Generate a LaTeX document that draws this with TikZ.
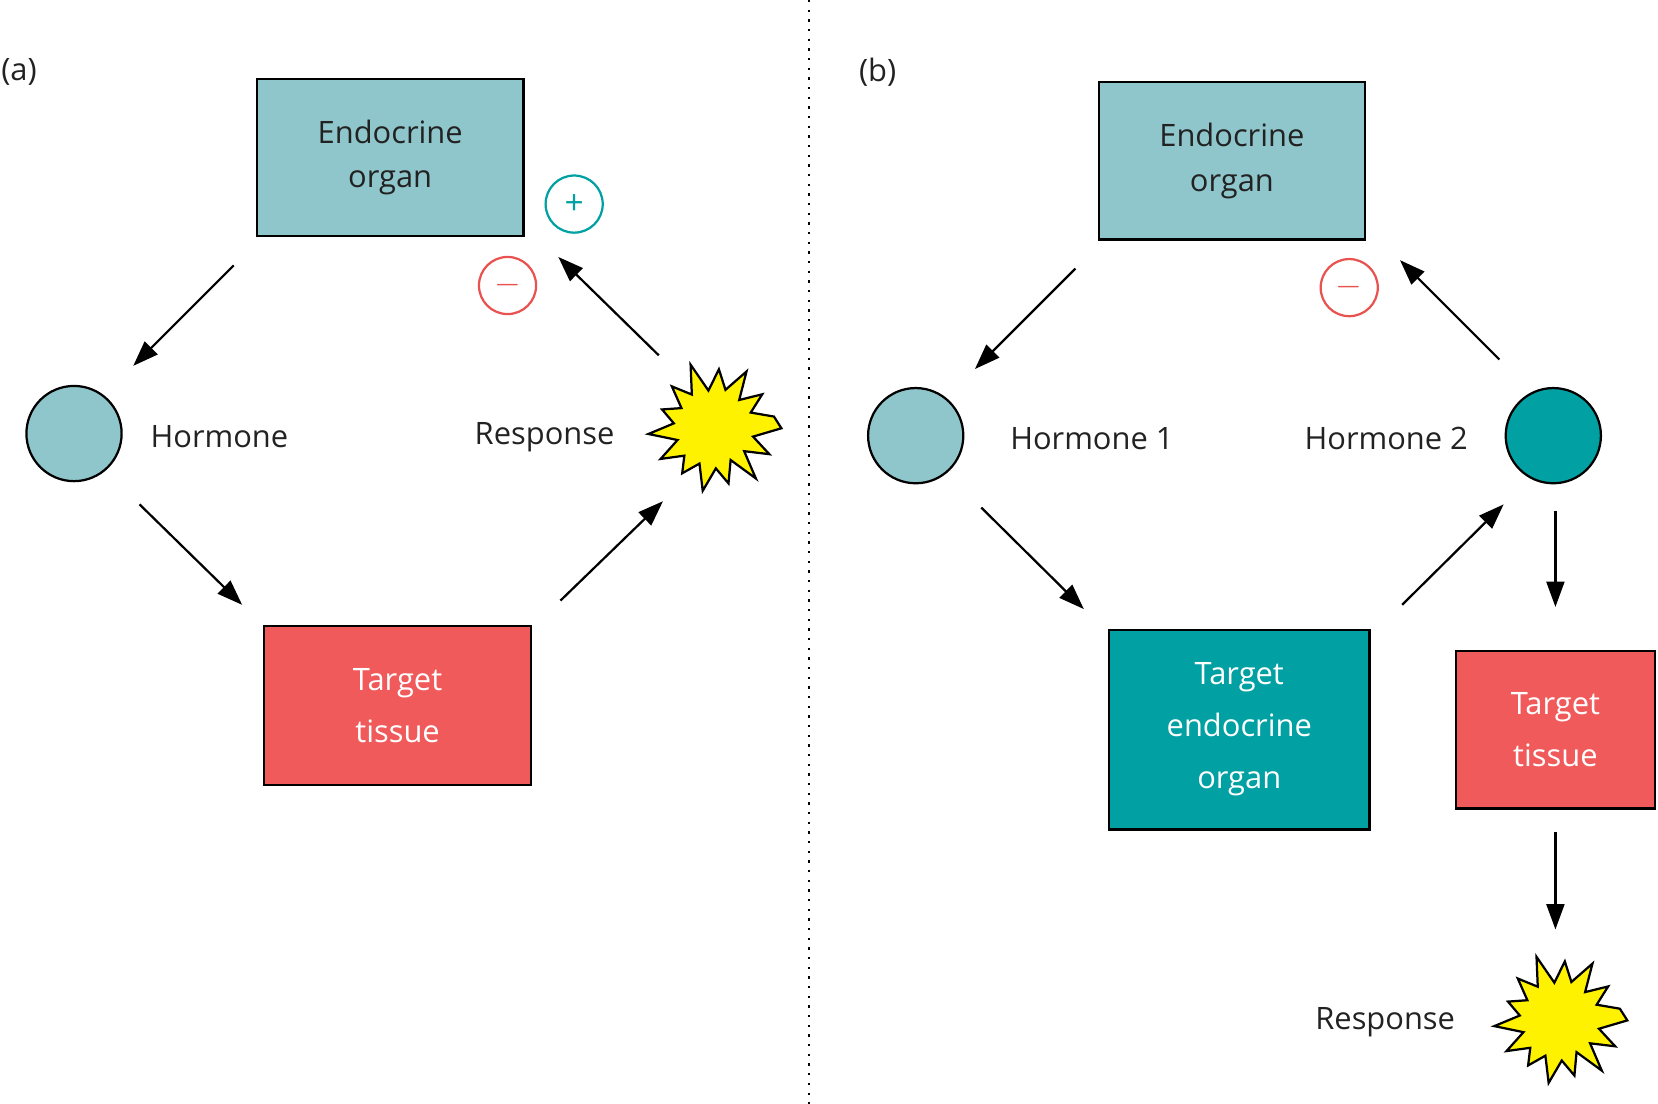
\documentclass[tikz,border=0pt]{standalone}
\usepackage{fontspec}
\setmainfont{Open Sans}
\usetikzlibrary{arrows.meta,calc}
\definecolor{lblue}{HTML}{8FC6CB}
\definecolor{teal2}{HTML}{00A0A3}
\definecolor{rred}{HTML}{F05A5B}
\definecolor{sred}{HTML}{E8534F}
\definecolor{txt}{HTML}{222222}
\begin{document}
\begin{tikzpicture}[x=0.01cm,y=-0.01cm,
  every node/.style={font=\fontsize{8.3}{12}\selectfont,text=txt},
  box/.style={draw=black,line width=0.6pt,inner sep=0pt,align=center},
  arr/.style={line width=0.6pt,-{Triangle[length=0.24cm,width=0.17cm]}},
  horm/.style={circle,draw=black,line width=0.6pt,minimum size=0.9cm,inner sep=0pt},
  sign/.style={circle,draw,line width=0.6pt,minimum size=0.54cm,inner sep=0pt,font=\fontsize{9}{10}\selectfont},
  starp/.style={draw=black,fill=yellow,line width=0.6pt,line join=miter}]
\useasboundingbox (0,0) rectangle (1568,1044);
\newcommand{\burst}[1]{\draw[starp,shift={(#1)}] (0:64) -- (12:38) -- (25:58) -- (37:36) -- (50:62) -- (62:34) -- (75:54) -- (87:38) -- (100:60) -- (112:36) -- (125:52) -- (137:38) -- (150:58) -- (162:36) -- (175:62) -- (187:38) -- (200:52) -- (212:36) -- (225:56) -- (237:38) -- (250:64) -- (262:36) -- (275:56) -- (287:38) -- (300:62) -- (312:36) -- (325:56) -- (337:38) -- (349:58) -- cycle;}
% divider
\draw[dotted,line width=0.6pt] (765,0) -- (765,1044);
% (a)
\node (la) at (18,68) {(a)};
\node[box,fill=lblue,minimum width=2.52cm,minimum height=1.48cm] (ea) at (369,149) {Endocrine\\organ};
\node[sign,draw=teal2,text=teal2] (pa) at (543,193) {+};
\node[sign,draw=sred,text=sred] (ma) at (480,270) {$-$};
\node[horm,fill=lblue] (ha) at (70,410) {};
\node[anchor=west] (hta) at (130,413) {Hormone};
\node (ra) at (515,413) {Response};
\burst{675,405}
\node[box,fill=rred,minimum width=2.52cm,minimum height=1.5cm,text=white] (ta) at (376,667) {Target\\[2pt]tissue};
\coordinate (a1) at (221,251); \coordinate (a2) at (126,346);
\coordinate (a3) at (132,477); \coordinate (a4) at (229,572);
\coordinate (a5) at (530,568); \coordinate (a6) at (627,474);
\coordinate (a7) at (623,336); \coordinate (a8) at (528,243);
\draw[arr] (a1) -- (a2); \draw[arr] (a3) -- (a4);
\draw[arr] (a5) -- (a6); \draw[arr] (a7) -- (a8);
% (b)
\node (lb) at (830,68) {(b)};
\node[box,fill=lblue,minimum width=2.51cm,minimum height=1.49cm] (eb) at (1165,152) {Endocrine\\organ};
\node[sign,draw=sred,text=sred] (mb) at (1276,272) {$-$};
\node[horm,fill=lblue] (h1) at (866,412) {};
\node[anchor=west] (h1t) at (943,415) {Hormone 1};
\node (h2t) at (1311,415) {Hormone 2};
\node[horm,fill=teal2] (h2) at (1469,412) {};
\node[box,fill=teal2,minimum width=2.46cm,minimum height=1.89cm,text=white] (te) at (1172,690) {Target\\[2pt]endocrine\\[2pt]organ};
\node[box,fill=rred,minimum width=1.88cm,minimum height=1.49cm,text=white] (tb) at (1471,690) {Target\\[2pt]tissue};
\burst{1475,965}
\node (rb) at (1310,967) {Response};
\coordinate (b1) at (1017,254); \coordinate (b2) at (922,349);
\coordinate (b3) at (928,480); \coordinate (b4) at (1025,576);
\coordinate (b5) at (1326,572); \coordinate (b6) at (1422,477);
\coordinate (b7) at (1418,340); \coordinate (b8) at (1324,246);
\coordinate (b9) at (1471,483); \coordinate (b10) at (1471,574);
\coordinate (b11) at (1471,787); \coordinate (b12) at (1471,879);
\draw[arr] (b1) -- (b2); \draw[arr] (b3) -- (b4);
\draw[arr] (b5) -- (b6); \draw[arr] (b7) -- (b8);
\draw[arr] (b9) -- (b10); \draw[arr] (b11) -- (b12);
\end{tikzpicture}
\end{document}
